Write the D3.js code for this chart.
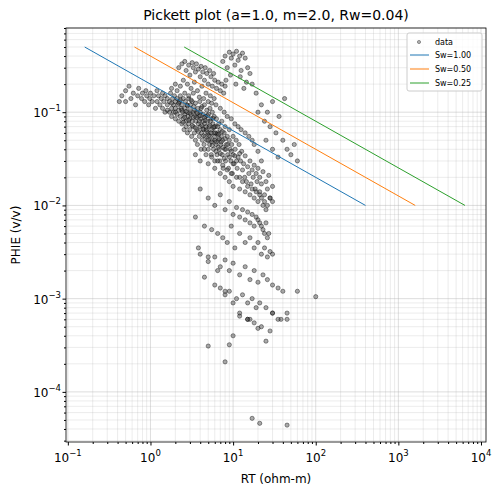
<!DOCTYPE html>
<html><head><meta charset="utf-8">
<script src="https://cdn.jsdelivr.net/npm/d3@7/dist/d3.min.js"></script>
<style>body{margin:0;background:#fff;font-family:"DejaVu Sans",sans-serif;}</style>
</head><body><svg id="c" width="502" height="495"></svg>
<script>
const title = "Pickett plot (a=1.0, m=2.0, Rw=0.04)";
const xLabel = "RT (ohm-m)";
const yLabel = "PHIE (v/v)";
const xTicks = [0.1, 1, 10, 100, 1000, 10000];
const xTickExp = ["-1", "0", "1", "2", "3", "4"];
const yTicks = [1e-4, 1e-3, 1e-2, 1e-1];
const yTickExp = ["-4", "-3", "-2", "-1"];
const lineNames = ["Sw=1.00", "Sw=0.50", "Sw=0.25"];
const lineColors = ["#1f77b4", "#ff7f0e", "#2ca02c"];
const lineRT = [[0.16, 400], [0.64, 1600], [2.56, 6400]];
const linePhi = [[0.5, 0.01], [0.5, 0.01], [0.5, 0.01]];
// scatter data [RT, PHIE]
const points = [
[0.42,0.13],[0.45,0.15],[0.5,0.17],[0.5,0.13],[0.55,0.19],[0.58,0.14],[0.62,0.16],[0.66,0.12],[0.7,0.15],[0.72,0.18],[0.78,0.14],[0.8,0.16],[0.85,0.13],[0.88,0.17],[0.9,0.15],[0.95,0.12],[0.98,0.14],[1.0,0.16],[1.05,0.13],[1.1,0.15],[1.15,0.11],[1.2,0.17],[1.2,0.13],[1.25,0.15],[1.3,0.12],[1.35,0.14],[1.4,0.16],[1.4,0.11],[1.45,0.13],[1.5,0.1],
[1.5,0.15],[1.6,0.12],[1.6,0.14],[1.7,0.1],[1.7,0.13],[1.75,0.16],[1.8,0.11],[1.8,0.09],[1.85,0.14],[1.9,0.12],[1.9,0.1],[1.95,0.15],[2.0,0.13],[2.0,0.085],[2.0,0.11],[2.1,0.14],[2.1,0.095],[2.15,0.12],[2.2,0.105],[2.2,0.08],[2.25,0.13],[2.3,0.09],[2.3,0.15],[2.35,0.11],[2.4,0.075],[2.4,0.12],[2.45,0.1],[2.5,0.14],[2.5,0.085],[2.55,0.065],[2.6,0.11],[2.6,0.095],[2.65,0.13],[2.7,0.08],[2.7,0.07],[2.75,0.12],[2.8,0.1],[2.8,0.06],[2.85,0.09],[2.9,0.14],[2.9,0.075],[3.0,0.11],[3.0,0.085],[3.0,0.065],[3.05,0.12],[3.1,0.095],[3.15,0.055],[3.2,0.13],[3.2,0.08],[3.25,0.1],[3.3,0.07],[3.35,0.115],[3.4,0.06],[3.45,0.09],[3.5,0.05],[3.5,0.125],[3.55,0.08],[3.6,0.1],[3.65,0.065],[3.7,0.045],[3.75,0.11],[3.8,0.075],[3.85,0.09],[3.9,0.055],[3.95,0.13],[4.0,0.07],[4.0,0.1],[4.05,0.085],[4.1,0.04],[4.15,0.06],[4.2,0.115],[4.25,0.05],[4.3,0.08],[4.35,0.095],[4.4,0.065],[4.45,0.045],[4.5,0.12],[4.5,0.075],[4.6,0.055],[4.65,0.09],[4.7,0.035],[4.75,0.065],[4.8,0.105],[4.85,0.05],[4.9,0.08],[5.0,0.04],[5.0,0.06],[5.05,0.095],[5.1,0.07],[5.2,0.045],[5.25,0.11],[5.3,0.055],[5.4,0.085],[5.45,0.035],[5.5,0.065],[5.6,0.1],[5.6,0.05],[5.7,0.075],[5.8,0.04],[5.85,0.06],[5.9,0.09],[6.0,0.03],[6.0,0.055],[6.1,0.07],[6.2,0.045],[6.3,0.085],[6.4,0.035],[6.5,0.06],[6.6,0.05],[6.7,0.075],[6.8,0.04],[6.9,0.03],[7.0,0.065],[7.1,0.045],[7.2,0.055],[7.3,0.08],[7.4,0.035],[7.5,0.05],[7.6,0.025],[7.8,0.06],[7.9,0.04],[8.0,0.07],[8.1,0.03],[8.3,0.045],[8.5,0.055],[8.6,0.035],[8.8,0.025],[9.0,0.05],[9.0,0.065],[9.2,0.04],[9.4,0.03],[9.6,0.045],[9.8,0.022],[10,0.035],[10,0.055],[10.3,0.028],[10.6,0.04],[10.9,0.05],[11.2,0.025],[11.5,0.033],[11.8,0.045],[12,0.02],[12.3,0.03],[12.7,0.038],[13,0.024],[13.4,0.028],[13.8,0.02],[14,0.034],[14.5,0.018],[15,0.026],[15.5,0.022],[16,0.03],[16.5,0.017],[17,0.024],[17.5,0.02],[18,0.027],[18.5,0.015],[19,0.022],[19.5,0.018],[20,0.025],[21,0.014],[21,0.02],[22,0.017],[23,0.023],[24,0.013],[25,0.018],[26,0.015],[27,0.021],[28,0.012],[30,0.016],
[2.2,0.125],[2.4,0.105],[2.6,0.088],[2.8,0.118],[3.0,0.098],[3.2,0.072],[3.4,0.105],[3.6,0.088],[3.8,0.062],[4.0,0.092],[4.2,0.072],[4.4,0.056],[4.6,0.082],[4.8,0.062],[5.0,0.05],[5.2,0.072],[5.4,0.06],[5.6,0.044],[5.8,0.068],[6.0,0.05],[6.2,0.038],[6.4,0.058],[6.6,0.042],[6.8,0.052],[7.0,0.036],[7.2,0.048],[7.4,0.062],[7.6,0.042],[7.8,0.032],[8.0,0.052],[8.2,0.04],[8.6,0.045],[9.0,0.033],[9.5,0.038],[10,0.028],[10.5,0.034],[11,0.03],[12,0.036],[1.6,0.105],[1.8,0.125],[2.0,0.1],[2.3,0.135],[2.5,0.078],[2.7,0.102],[2.9,0.082],[3.1,0.135],[3.3,0.088],[3.5,0.068],[3.7,0.098],[3.9,0.08],[4.1,0.11],[4.3,0.066],[4.5,0.088],[4.7,0.07],[4.9,0.092],[5.1,0.056],[5.3,0.08],[5.5,0.048],[5.7,0.086],[5.9,0.07],[6.1,0.06],[6.3,0.048],[6.5,0.07],[6.7,0.058],
[2.2,0.3],[2.4,0.33],[2.6,0.35],[2.7,0.28],[2.9,0.32],[3.0,0.25],[3.2,0.34],[3.3,0.3],[3.5,0.27],[3.6,0.33],[3.8,0.29],[4.0,0.24],[4.1,0.31],[4.3,0.27],[4.5,0.22],[4.6,0.3],[4.8,0.26],[5.0,0.2],[5.2,0.28],[5.4,0.24],[5.6,0.19],[5.8,0.26],[6.0,0.22],[6.3,0.18],[6.6,0.21],[7.0,0.17],[7.3,0.2],[7.7,0.16],[8.0,0.19],[2.5,0.22],[2.8,0.2],[3.1,0.18],[3.4,0.21],[3.7,0.17],[4.2,0.19],[4.7,0.16],[5.3,0.15],[5.9,0.14],[1.8,0.18],[2.0,0.2],[2.1,0.17],[2.3,0.19],[2.6,0.16],[2.9,0.15],[3.3,0.16],[3.9,0.145],[4.4,0.14],[5.0,0.13],[5.5,0.125],[6.2,0.12],[7.0,0.11],[7.8,0.1],[8.5,0.09],[9.5,0.085],[10.5,0.075],[11.5,0.07],[12.5,0.065],[14,0.06],[15.5,0.055],[17,0.05],
[7.5,0.35],[8,0.4],[8.5,0.3],[9,0.44],[9.5,0.38],[10,0.42],[10.5,0.32],[11,0.45],[11.5,0.36],[12,0.4],[12.5,0.28],[13,0.43],[14,0.38],[15,0.3],[16,0.26],[8.2,0.22],[9.3,0.25],[10.8,0.2],[12.2,0.24],[13.5,0.18],[14.5,0.21],[17,0.2],[19,0.16],
[20,0.1],[22,0.12],[24,0.08],[26,0.1],[28,0.07],[30,0.13],[33,0.06],[36,0.09],[40,0.05],[42,0.14],[45,0.04],[50,0.035],[55,0.045],[60,0.03],[25,0.05],[30,0.04],[35,0.033],[18,0.045],[20,0.038],[22,0.03],
[3.5,0.035],[4,0.03],[4.5,0.04],[5,0.028],[5.5,0.033],[6,0.025],[6.5,0.03],[7,0.022],[7.5,0.027],[8,0.02],[8.5,0.024],[9,0.018],[9.5,0.022],[10,0.016],[11,0.02],[12,0.015],[13,0.018],[14,0.014],[15,0.016],[16,0.013],[17,0.015],[18,0.012],[19,0.014],[20,0.011],[21,0.013],[22,0.012],[23,0.01],[24,0.011],[25,0.009],[26,0.01],[28,0.012],[30,0.011],
[4,0.015],[5,0.012],[6,0.01],[7,0.013],[8,0.009],[9,0.011],[10,0.008],[11,0.0095],[12,0.0075],[13,0.009],[14,0.007],[15,0.0085],[16,0.0065],[17,0.008],[18,0.006],[19,0.0075],[20,0.007],[21,0.0065],[22,0.006],[23,0.0055],[24,0.005],[25,0.0065],[26,0.0045],[27,0.005],
[3.5,0.0075],[4.5,0.006],[5.5,0.0055],[6.5,0.005],[7.5,0.0045],[8.5,0.004],[9.5,0.006],[10.5,0.0035],[12,0.005],[14,0.004],[16,0.0045],[18,0.0035],[20,0.004],[22,0.003],[24,0.0035],[26,0.0028],[28,0.0032],[30,0.003],
[4,0.003],[5,0.0025],[6,0.0028],[7,0.0022],[8,0.0026],[9,0.002],[10,0.0024],[12,0.0018],[14,0.0022],[16,0.0016],[18,0.002],[20,0.0015],[23,0.0018],[26,0.0016],[30,0.0014],[35,0.0013],[40,0.0012],
[4.5,0.0017],[6,0.0014],[7,0.0013],[8,0.0011],[9,0.0012],[11,0.001],[13,0.0011],[15,0.0009],[17,0.001],[19,0.0008],[21,0.0009],[25,0.0008],[30,0.0007],[38,0.0006],[45,0.0007],
[3.8,0.0035],[5,0.0028],[6.5,0.002],[8,0.0012],[10,0.0009],[12,0.0007],[15,0.0006],[18,0.00055],[22,0.0005],[28,0.00045],[35,0.0006],[45,0.0006],[60,0.0012],[100,0.00105],
[8,0.00021],[9,0.00032],[10,0.0004],[12,0.00065],[15,0.0006],[20,0.00048],[25,0.00035],[30,0.0007],[5,0.00031],[16,0.0006],
[17,0.000052],[21,0.000046],[45,0.000044]
];
const svg = d3.select("#c");
const m = {l:66, r:486, t:28, b:442};
const x = d3.scaleLog().domain([0.095, 11500]).range([m.l, m.r]);
const y = d3.scaleLog().domain([2.9e-5, 0.8]).range([m.b, m.t]);
const g = svg.append("g");
const xMinor = x.ticks(); const yMinor = y.ticks();
const isMajor = (arr,d)=>arr.some(t=>Math.abs(t-d)/t<1e-6);
g.selectAll(".gx").data(xMinor).join("line").attr("x1",d=>x(d)).attr("x2",d=>x(d)).attr("y1",m.t).attr("y2",m.b)
 .attr("stroke","#b0b0b0").attr("stroke-opacity",d=>isMajor(xTicks,d)?0.6:0.35).attr("stroke-width",0.7);
g.selectAll(".gy").data(yMinor).join("line").attr("y1",d=>y(d)).attr("y2",d=>y(d)).attr("x1",m.l).attr("x2",m.r)
 .attr("stroke","#b0b0b0").attr("stroke-opacity",d=>isMajor(yTicks,d)?0.6:0.35).attr("stroke-width",0.7);
svg.append("g").selectAll("circle").data(points).join("circle")
 .attr("cx",d=>x(d[0])).attr("cy",d=>y(d[1])).attr("r",2.1)
 .attr("fill","#444").attr("fill-opacity",0.45).attr("stroke","#000").attr("stroke-opacity",0.5).attr("stroke-width",0.8);
lineNames.forEach((n,i)=>{
 svg.append("line").attr("x1",x(lineRT[i][0])).attr("y1",y(linePhi[i][0])).attr("x2",x(lineRT[i][1])).attr("y2",y(linePhi[i][1]))
  .attr("stroke",lineColors[i]).attr("stroke-width",1);
});
svg.append("rect").attr("x",m.l).attr("y",m.t).attr("width",m.r-m.l).attr("height",m.b-m.t).attr("fill","none").attr("stroke","#000").attr("stroke-width",0.8);
const xa = svg.append("g").attr("transform",`translate(0,${m.b})`).call(d3.axisBottom(x).tickValues(xMinor).tickSize(2).tickFormat(""));
xa.selectAll(".tick line").attr("y2",d=>isMajor(xTicks,d)?3.5:2);
xa.select(".domain").remove();
const ya = svg.append("g").attr("transform",`translate(${m.l},0)`).call(d3.axisLeft(y).tickValues(yMinor).tickSize(2).tickFormat(""));
ya.selectAll(".tick line").attr("x2",d=>isMajor(yTicks,d)?-3.5:-2);
ya.select(".domain").remove();
xTicks.forEach((t,i)=>{
 const tx = svg.append("text").attr("x",x(t)).attr("y",m.b+20).attr("text-anchor","middle").attr("font-size",12);
 tx.append("tspan").text("10");
 tx.append("tspan").attr("dy",-6).attr("font-size",8.5).text(xTickExp[i].replace("-","\u2212"));
});
yTicks.forEach((t,i)=>{
 const tx = svg.append("text").attr("x",m.l-5).attr("y",y(t)+5).attr("text-anchor","end").attr("font-size",12);
 tx.append("tspan").text("10");
 tx.append("tspan").attr("dy",-6).attr("font-size",8.5).text(yTickExp[i].replace("-","\u2212"));
});
svg.append("text").attr("x",(m.l+m.r)/2).attr("y",20).attr("text-anchor","middle").attr("font-size",14).text(title);
svg.append("text").attr("x",(m.l+m.r)/2).attr("y",483).attr("text-anchor","middle").attr("font-size",12).text(xLabel);
svg.append("text").attr("transform",`translate(20,${(m.t+m.b)/2}) rotate(-90)`).attr("text-anchor","middle").attr("font-size",12).text(yLabel);
const lg = svg.append("g").attr("transform","translate(407,33)");
lg.append("rect").attr("width",75).attr("height",58).attr("rx",2).attr("fill","#fff").attr("fill-opacity",0.8).attr("stroke","#ccc");
lg.append("circle").attr("cx",12).attr("cy",9).attr("r",1.6).attr("fill","#808080").attr("fill-opacity",0.6).attr("stroke","#000").attr("stroke-opacity",0.35);
lg.append("text").attr("x",28).attr("y",12).attr("font-size",8).text("data");
lineNames.forEach((n,i)=>{
 lg.append("line").attr("x1",3).attr("x2",22).attr("y1",22+i*14).attr("y2",22+i*14).attr("stroke",lineColors[i]);
 lg.append("text").attr("x",28).attr("y",25+i*14).attr("font-size",8).text(n);
});
</script></body></html>
